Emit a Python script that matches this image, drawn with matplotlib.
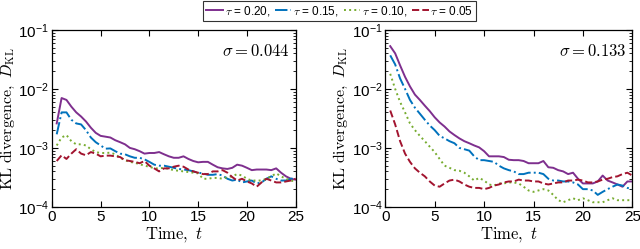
import numpy as np
import matplotlib.pyplot as plt
from matplotlib.ticker import FixedLocator, FuncFormatter, LogLocator, NullFormatter

plt.rcParams['mathtext.fontset'] = 'cm'

# Time grid
t = np.arange(0.5, 25.01, 0.5)

taus = ["0.20", "0.15", "0.10", "0.05"]
colors = ["#7E2F8E", "#0072BD", "#77AC30", "#A2142F"]
styles = ["-", "-.", ":", "--"]

# Left panel (sigma = 0.044), values in units of 1e-3
left_020 = [2.6, 7.0, 6.5, 5.0, 4.0, 3.4, 2.8, 2.2, 1.8, 1.6, 1.55, 1.5, 1.35, 1.25, 1.15, 1.0,
            0.95, 0.88, 0.80, 0.82, 0.82, 0.85, 0.78, 0.72, 0.68, 0.68, 0.72, 0.65, 0.60, 0.57,
            0.58, 0.58, 0.52, 0.47, 0.45, 0.44, 0.46, 0.52, 0.50, 0.46, 0.42, 0.43, 0.43, 0.43,
            0.42, 0.45, 0.38, 0.33, 0.30, 0.29]
left_015 = [1.7, 4.0, 4.0, 3.0, 2.6, 2.5, 2.0, 1.5, 1.25, 1.1, 0.97, 0.98, 0.88, 0.80, 0.78, 0.72,
            0.68, 0.68, 0.64, 0.58, 0.52, 0.50, 0.50, 0.48, 0.46, 0.44, 0.43, 0.42, 0.40, 0.38,
            0.37, 0.35, 0.35, 0.36, 0.34, 0.30, 0.28, 0.29, 0.26, 0.27, 0.28, 0.25, 0.26, 0.30,
            0.33, 0.30, 0.28, 0.28, 0.30, 0.31]
left_010 = [1.1, 1.5, 1.65, 1.3, 1.15, 1.15, 1.1, 0.95, 0.85, 0.82, 0.82, 0.83, 0.78, 0.68, 0.62,
            0.58, 0.56, 0.53, 0.50, 0.48, 0.45, 0.45, 0.46, 0.44, 0.42, 0.41, 0.40, 0.39, 0.38,
            0.37, 0.30, 0.30, 0.31, 0.31, 0.30, 0.32, 0.33, 0.36, 0.34, 0.30, 0.28, 0.28, 0.28,
            0.30, 0.33, 0.37, 0.33, 0.30, 0.28, 0.27]
left_005 = [0.60, 0.75, 0.65, 0.80, 0.95, 0.80, 0.75, 0.85, 0.80, 0.72, 0.74, 0.74, 0.72, 0.70,
            0.62, 0.60, 0.58, 0.55, 0.60, 0.50, 0.45, 0.40, 0.45, 0.45, 0.48, 0.50, 0.48, 0.43,
            0.40, 0.38, 0.36, 0.36, 0.40, 0.40, 0.42, 0.38, 0.32, 0.28, 0.30, 0.27, 0.25, 0.22,
            0.26, 0.30, 0.28, 0.26, 0.26, 0.27, 0.28, 0.30]

# Right panel (sigma = 0.133), values in units of 1e-3
right_020 = [53, 40, 25, 16, 11, 8.0, 6.5, 5.2, 4.2, 3.3, 2.7, 2.3, 1.9, 1.65, 1.45, 1.3, 1.2,
             1.1, 1.02, 0.88, 0.72, 0.72, 0.72, 0.70, 0.63, 0.62, 0.62, 0.60, 0.55, 0.55, 0.55,
             0.60, 0.47, 0.46, 0.42, 0.40, 0.36, 0.38, 0.30, 0.25, 0.25, 0.25, 0.27, 0.34, 0.28,
             0.26, 0.24, 0.22, 0.27, 0.27]
right_015 = [37, 26, 15, 10, 6.5, 4.8, 3.8, 3.0, 2.4, 2.0, 1.6, 1.45, 1.3, 1.2, 1.0, 0.95, 0.90,
             0.72, 0.62, 0.62, 0.60, 0.58, 0.50, 0.45, 0.42, 0.40, 0.36, 0.36, 0.38, 0.38, 0.38,
             0.36, 0.30, 0.28, 0.28, 0.27, 0.27, 0.26, 0.24, 0.20, 0.20, 0.19, 0.16, 0.18, 0.20,
             0.22, 0.24, 0.23, 0.21, 0.20]
right_010 = [18, 10, 6.0, 4.0, 2.6, 2.0, 1.6, 1.3, 1.05, 0.85, 0.65, 0.50, 0.46, 0.42, 0.41, 0.38,
             0.33, 0.28, 0.31, 0.28, 0.24, 0.23, 0.25, 0.25, 0.26, 0.26, 0.25, 0.22, 0.19, 0.18,
             0.19, 0.20, 0.19, 0.16, 0.13, 0.12, 0.13, 0.14, 0.13, 0.14, 0.13, 0.12, 0.12, 0.12,
             0.13, 0.14, 0.13, 0.13, 0.13, 0.13]
right_005 = [4.3, 2.5, 1.3, 0.80, 0.58, 0.45, 0.38, 0.33, 0.27, 0.23, 0.22, 0.25, 0.28, 0.29,
             0.27, 0.24, 0.22, 0.21, 0.21, 0.20, 0.21, 0.23, 0.24, 0.26, 0.27, 0.27, 0.29, 0.28,
             0.28, 0.27, 0.27, 0.25, 0.24, 0.25, 0.26, 0.26, 0.28, 0.28, 0.29, 0.28, 0.26, 0.26,
             0.27, 0.29, 0.30, 0.32, 0.33, 0.36, 0.38, 0.34]

panels = [
    ("0.044", [left_020, left_015, left_010, left_005]),
    ("0.133", [right_020, right_015, right_010, right_005]),
]

labels = [r'$\tau$ = ' + tau + (',' if i < len(taus) - 1 else '') for i, tau in enumerate(taus)]

fig = plt.figure(figsize=(6.4, 2.49), dpi=100)
axes = [fig.add_axes([0.081, 0.169, 0.381, 0.711]),
        fig.add_axes([0.602, 0.169, 0.386, 0.711])]

handles = []
for ax, (sigma, series) in zip(axes, panels):
    for vals, c, ls, lab in zip(series, colors, styles, labels):
        h, = ax.plot(t, np.array(vals) * 1e-3, color=c, ls=ls, lw=1.4, label=lab)
        if ax is axes[0]:
            handles.append(h)
    ax.set_yscale('log')
    ax.set_xlim(0, 25)
    ax.set_ylim(1e-4, 1e-1)
    ax.xaxis.set_major_locator(FixedLocator([0, 5, 10, 15, 20, 25]))
    ax.yaxis.set_major_locator(FixedLocator([1e-4, 1e-3, 1e-2, 1e-1]))
    ax.yaxis.set_minor_locator(LogLocator(base=10, subs=np.arange(2, 10)))
    ax.yaxis.set_minor_formatter(NullFormatter())
    ax.yaxis.set_major_formatter(FuncFormatter(
        lambda v, p: r'$\mathregular{10^{%d}}$' % round(np.log10(v))))
    ax.tick_params(which='both', direction='in', top=True, right=True,
                   labelsize=11, labelfontfamily='Liberation Sans', pad=2)
    ax.tick_params(which='major', length=4)
    ax.tick_params(which='minor', length=2)
    for sp in ax.spines.values():
        sp.set_linewidth(0.9)
    ax.set_xlabel(r'$\mathrm{Time,}\ t$', fontsize=12, labelpad=1)
    ax.set_ylabel(r'$\mathrm{KL\ divergence,}\ D_{\mathrm{KL}}$', fontsize=11.5, labelpad=1)
    ax.text(0.975, 0.93, r'$\sigma = %s$' % sigma, transform=ax.transAxes,
            ha='right', va='top', fontsize=12)

leg = fig.legend(handles=handles, loc='upper center', bbox_to_anchor=(0.531, 1.0),
                 ncol=4, frameon=True, fancybox=False,
                 handlelength=1.4, handletextpad=0.15, columnspacing=0.4,
                 borderpad=0.25, borderaxespad=0.1,
                 prop={'family': 'Liberation Sans', 'size': 8.5})
leg.get_frame().set_edgecolor('black')
leg.get_frame().set_linewidth(0.8)

fig.savefig('out.png', dpi=100)
